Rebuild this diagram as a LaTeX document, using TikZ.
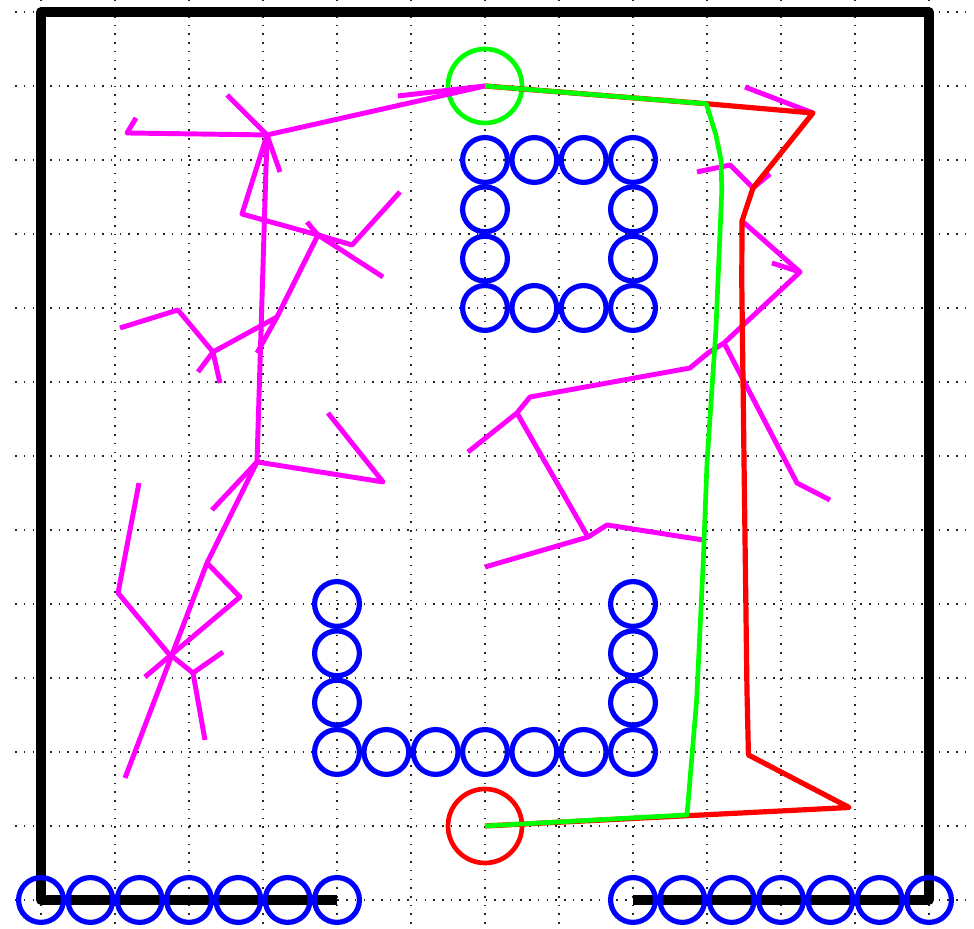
\documentclass[tikz,border=0pt]{standalone}
\definecolor{mag}{RGB}{255,0,255}
\definecolor{pureblue}{RGB}{0,0,255}
\definecolor{puregreen}{RGB}{0,255,0}
\definecolor{purered}{RGB}{255,0,0}
\begin{document}
\begin{tikzpicture}[x=1cm,y=1cm,
  gridline/.style={line width=0.6pt, dash pattern=on 0.6pt off 2.75pt, black!85},
  wall/.style={line width=3.6pt, black, line join=round},
  obs/.style={line width=2pt, pureblue},
  treeedge/.style={line width=1.9pt, mag, line join=round},
  redpath/.style={line width=2pt, purered, line join=round},
  greenpath/.style={line width=1.8pt, puregreen, line join=round},
  endcircle/.style={line width=1.8pt}]
\useasboundingbox (-0.554,-0.392) rectangle (12.608,12.162);
% grid
\foreach \x in {0,...,12} \draw[gridline] (\x,-0.32) -- (\x,12.162);
\foreach \y in {0,...,12} \draw[gridline] (-0.35,\y) -- (12.608,\y);
% walls
\coordinate (w1) at (4,0); \coordinate (w2) at (0,0); \coordinate (w3) at (0,12);
\coordinate (w4) at (12,12); \coordinate (w5) at (12,0); \coordinate (w6) at (8,0);
\draw[wall] (w1) -- (w2) -- (w3) -- (w4) -- (w5) -- (w6);
% obstacles
\foreach \i in {0,...,6} {
  \draw[obs] (\i*2/3,0) circle (0.303);
  \draw[obs] (8+\i*2/3,0) circle (0.303);
  \draw[obs] (4+\i*2/3,2) circle (0.303);
}
\foreach \i in {1,2,3} {
  \draw[obs] (4,2+\i*2/3) circle (0.303);
  \draw[obs] (8,2+\i*2/3) circle (0.303);
}
\foreach \i in {0,...,3} {
  \draw[obs] (6+\i*2/3,10) circle (0.303);
  \draw[obs] (6+\i*2/3,8) circle (0.303);
}
\foreach \i in {1,2} {
  \draw[obs] (6,8+\i*2/3) circle (0.303);
  \draw[obs] (8,8+\i*2/3) circle (0.303);
}
% start and goal
\coordinate (g) at (6,11);
\coordinate (s) at (6,1);
\draw[endcircle, puregreen] (g) circle (0.5);
\draw[endcircle, purered] (s) circle (0.5);
% tree points (left)
\coordinate (h1) at (3.054,10.338);
\coordinate (a1) at (4.824,10.865);
\coordinate (a2) at (1.162,10.365);
\coordinate (a3) at (1.284,10.568);
\coordinate (a4) at (2.514,10.878);
\coordinate (a5) at (3.230,9.838);
\coordinate (a6) at (2.716,9.270);
\coordinate (h2) at (3.743,8.986);
\coordinate (a7) at (4.622,8.419);
\coordinate (a8) at (4.203,8.851);
\coordinate (a9) at (4.851,9.568);
\coordinate (a10) at (3.595,9.162);
\coordinate (q) at (3.189,7.878);
\coordinate (a11) at (2.919,7.392);
\coordinate (h4) at (2.324,7.405);
\coordinate (a12) at (1.851,7.973);
\coordinate (a13) at (1.068,7.730);
\coordinate (a14) at (2.122,7.135);
\coordinate (a15) at (2.419,6.986);
\coordinate (h3) at (2.919,5.919);
\coordinate (a16) at (4.622,5.649);
\coordinate (a17) at (3.878,6.581);
\coordinate (a18) at (2.311,5.270);
\coordinate (a19) at (2.243,4.554);
\coordinate (a20) at (2.689,4.095);
\coordinate (a21) at (1.405,3.014);
\coordinate (a22) at (1.135,1.649);
\coordinate (a23) at (1.324,5.635);
\coordinate (a24) at (1.041,4.149);
\coordinate (x1) at (1.716,3.338);
\coordinate (a25) at (2.054,3.068);
\coordinate (a26) at (2.459,3.351);
\coordinate (a27) at (2.216,2.162);
% tree points (right)
\coordinate (b1) at (5.770,6.054);
\coordinate (b2) at (6.432,6.581);
\coordinate (b3) at (6.608,6.797);
\coordinate (b4) at (8.770,7.189);
\coordinate (b5) at (9.014,7.392);
\coordinate (b6) at (9.230,7.527);
\coordinate (b7) at (10.216,5.635);
\coordinate (b8) at (10.662,5.405);
\coordinate (b9) at (7.392,4.905);
\coordinate (b10) at (6.0,4.5);
\coordinate (b11) at (7.649,5.068);
\coordinate (b12) at (8.946,4.865);
\coordinate (b13) at (10.257,8.486);
\coordinate (b14) at (9.473,9.176);
\coordinate (b15) at (9.878,8.608);
\coordinate (b16) at (9.514,10.986);
\coordinate (b17) at (10.432,10.635);
\coordinate (b18) at (8.865,9.838);
\coordinate (b19) at (9.311,9.932);
\coordinate (b20) at (9.622,9.622);
\coordinate (b21) at (9.851,9.811);
% tree edges
\draw[treeedge] (h1) -- (g);
\draw[treeedge] (a1) -- (g);
\draw[treeedge] (h1) -- (a2) -- (a3);
\draw[treeedge] (h1) -- (a4);
\draw[treeedge] (h1) -- (a5);
\draw[treeedge] (h1) -- (a6) -- (h2) -- (a7);
\draw[treeedge] (h2) -- (a8) -- (a9);
\draw[treeedge] (h2) -- (a10);
\draw[treeedge] (h2) -- (q) -- (a11);
\draw[treeedge] (q) -- (h4);
\draw[treeedge] (h4) -- (a12) -- (a13);
\draw[treeedge] (h4) -- (a14);
\draw[treeedge] (h4) -- (a15);
\draw[treeedge] (h1) -- (h3);
\draw[treeedge] (h3) -- (a16) -- (a17);
\draw[treeedge] (h3) -- (a18);
\draw[treeedge] (h3) -- (a19) -- (a20) -- (a21);
\draw[treeedge] (a19) -- (a22);
\draw[treeedge] (a23) -- (a24) -- (x1) -- (a25);
\draw[treeedge] (a25) -- (a26);
\draw[treeedge] (a25) -- (a27);
\draw[treeedge] (b1) -- (b2) -- (b3) -- (b4) -- (b5) -- (b6);
\draw[treeedge] (b6) -- (b7) -- (b8);
\draw[treeedge] (b2) -- (b9);
\draw[treeedge] (b10) -- (b9) -- (b11) -- (b12);
\draw[treeedge] (b6) -- (b13) -- (b14);
\draw[treeedge] (b15) -- (b13);
\draw[treeedge] (b16) -- (b17);
\draw[treeedge] (b18) -- (b19) -- (b20) -- (b21);
% red path
\coordinate (r1) at (10.92,1.25);
\coordinate (r2) at (9.56,1.96);
\coordinate (r3) at (9.54,2.84);
\coordinate (r4) at (9.50,5.95);
\coordinate (r5) at (9.47,8.34);
\coordinate (c1) at (8.99,10.76);
\draw[redpath] (s) -- (r1) -- (r2) -- (r3) -- (r4) -- (r5) -- (b14) -- (b20) -- (b17) -- (c1) -- (g);
% green path
\coordinate (p1) at (9.12,10.34);
\coordinate (p2) at (9.19,10.0);
\coordinate (p3) at (9.20,9.59);
\coordinate (p4) at (9.12,7.70);
\coordinate (p5) at (9.0,5.91);
\coordinate (p6) at (8.95,4.59);
\coordinate (p7) at (8.86,2.70);
\coordinate (p8) at (8.73,1.15);
\draw[greenpath] (g) -- (c1) -- (p1) -- (p2) -- (p3) -- (p4) -- (p5) -- (p6) -- (p7) -- (p8) -- (s);
\end{tikzpicture}
\end{document}
